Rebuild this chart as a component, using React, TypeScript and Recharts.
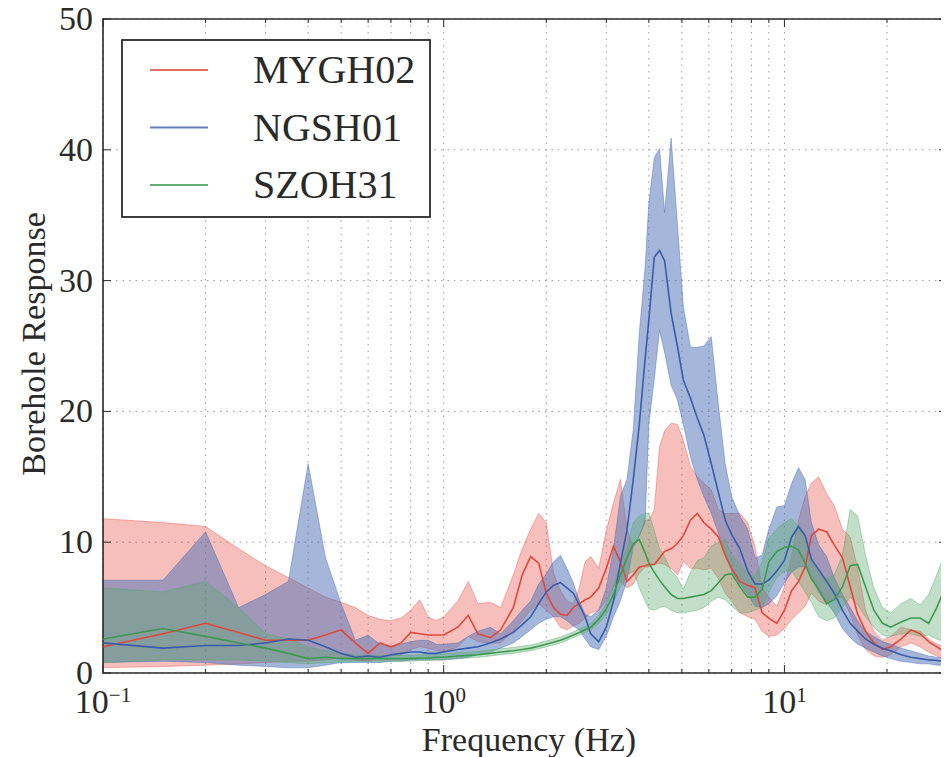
import React from 'react'
import { ComposedChart, Area, Line, XAxis, YAxis, CartesianGrid, ReferenceArea } from 'recharts'

const freqs = [
  0.1, 0.15, 0.2, 0.25, 0.3, 0.35, 0.4, 0.45, 0.5, 0.55,
  0.6, 0.65, 0.7, 0.75, 0.8, 0.85, 0.9, 0.95, 1.0, 1.1,
  1.18, 1.26, 1.37, 1.47, 1.6, 1.7, 1.8, 1.9, 2.0, 2.1,
  2.2, 2.3, 2.4, 2.5, 2.6, 2.7, 2.85, 3.0, 3.15, 3.3,
  3.45, 3.6, 3.75, 3.9, 4.0, 4.15, 4.3, 4.45, 4.65, 4.85,
  5.05, 5.3, 5.55, 5.8, 6.1, 6.4, 6.7, 7.0, 7.4, 7.8,
  8.2, 8.6, 9.0, 9.5, 10, 10.5, 11, 11.5, 12, 12.6,
  13.3, 14, 14.8, 15.6, 16.4, 17.3, 18.3, 19.4, 20.5, 22,
  23.5, 25, 26.5, 28, 30,
]

// MYGH02 (red)
const mygh02 = [
  2.0, 3.0, 3.8, 3.1, 2.5, 2.5, 2.5, 2.9, 3.3, 2.3,
  1.5, 2.3, 2.0, 2.3, 3.1, 3.0, 2.9, 2.9, 2.9, 3.5,
  4.4, 3.0, 2.7, 3.3, 5.0, 7.5, 8.9, 8.4, 6.1, 5.0,
  4.5, 4.4, 5.0, 5.3, 5.6, 5.8, 6.5, 8.0, 9.7, 8.5,
  7.0, 7.5, 8.1, 8.2, 8.3, 8.3, 8.8, 9.3, 9.5, 9.9,
  10.5, 11.7, 12.2, 11.5, 11.0, 10.4, 9.0, 8.0, 7.0, 6.7,
  6.5, 4.6, 4.2, 3.8, 4.8, 6.3, 7.0, 8.1, 10.5, 11.0,
  10.8, 9.8, 8.8, 6.6, 4.5, 3.2, 2.3, 1.8, 2.0, 2.6,
  3.3, 3.0, 2.4, 2.0, 1.5,
]
const mygh02Hi = [
  11.8, 11.5, 11.2, 9.5, 8.2, 7.3, 6.5, 5.8, 5.4, 5.0,
  4.4, 4.1, 4.0, 4.2, 4.8, 5.6, 4.3, 4.0, 4.3, 5.5,
  7.0, 5.3, 5.4, 5.0, 7.5, 9.5, 11.0, 12.2, 11.5, 7.6,
  6.3, 5.5, 5.3, 6.5, 8.5, 8.9, 8.0, 10.9, 13.0, 14.8,
  11.0, 9.7, 10.5, 11.7, 11.7, 12.5, 17.3, 18.5, 19.1, 19.0,
  17.8, 15.8, 15.0, 14.5, 14.0, 12.5, 12.2, 12.2, 12.2, 11.5,
  9.6, 6.5, 5.8, 5.1, 6.6, 9.0, 11.7, 13.5, 14.5, 15.0,
  13.7, 12.8, 11.0, 10.4, 8.0, 4.8, 3.2, 2.5, 2.8, 3.5,
  3.3, 3.2, 2.6, 2.2, 2.0,
]
const mygh02Lo = [
  0.4, 0.5, 0.6, 0.7, 0.8, 0.9, 0.9, 1.0, 1.2, 1.0,
  0.9, 1.2, 1.3, 1.4, 1.8, 2.0, 1.9, 1.7, 1.6, 2.0,
  2.8, 2.4, 2.3, 2.3, 3.2, 4.0, 4.8, 5.3, 4.8, 4.3,
  3.5, 3.3, 3.6, 3.8, 4.2, 4.6, 4.8, 5.5, 6.6, 7.0,
  6.5, 6.8, 7.6, 8.1, 8.1, 8.3, 8.4, 8.3, 8.0, 7.5,
  8.5, 8.0, 8.0, 7.9, 8.0, 7.2, 6.1, 5.5, 4.6, 4.3,
  4.1, 3.2, 2.8, 2.9, 3.4, 4.1, 4.6, 5.1, 6.1, 5.5,
  5.2, 5.8, 5.8, 4.5, 2.9, 1.8, 1.3, 1.2, 1.4, 2.0,
  2.3, 2.0, 1.6, 1.3, 1.0,
]

// NGSH01 (blue)
const ngsh01 = [
  2.3, 1.9, 2.1, 2.1, 2.3, 2.6, 2.5, 2.0, 1.5, 1.2,
  1.3, 1.2, 1.4, 1.5, 1.6, 1.6, 1.5, 1.5, 1.6, 1.8,
  1.9, 2.0, 2.3, 2.6, 3.1, 3.7, 4.3, 5.3, 6.2, 6.7,
  6.9, 6.5, 6.1, 5.2, 4.3, 3.0, 2.4, 3.5, 5.5, 8.4,
  10.9, 14.8, 19.0, 24.0, 27.0, 31.8, 32.3, 31.5, 27.5, 25.0,
  22.4, 21.0, 19.5, 18.2, 16.0, 13.8, 11.7, 10.6, 9.5, 7.8,
  6.8, 6.8, 7.1, 7.8, 8.6, 10.4, 11.2, 10.5, 8.7, 7.9,
  7.0, 6.1, 4.8, 3.8, 3.2, 2.6, 2.2, 1.9, 1.7, 1.4,
  1.2, 1.1, 1.0, 0.95, 0.9,
]
const ngsh01Hi = [
  7.1, 7.1, 10.8, 5.0, 6.0, 7.0, 16.0, 8.8, 5.3, 2.5,
  2.9, 2.2, 2.0, 2.2, 2.4, 2.5, 2.5, 2.2, 2.2, 2.3,
  2.8, 3.2, 3.5, 3.0, 4.0, 4.8, 5.5, 6.8, 7.6, 8.5,
  9.0, 8.0, 6.9, 5.5, 4.5, 4.3, 4.8, 6.5, 9.5, 13.5,
  14.8, 18.6, 26.0, 31.0, 36.0, 39.4, 40.1, 35.2, 40.9, 34.4,
  28.0, 24.9, 24.9, 25.0, 25.7, 20.5, 16.0, 13.5, 12.0, 11.0,
  8.8, 9.0, 11.0, 12.7, 12.8, 14.5, 15.7, 14.8, 11.5, 9.8,
  8.9, 7.3, 6.0, 5.0, 4.0, 3.2, 2.8, 2.4, 2.2, 1.9,
  1.7, 1.5, 1.3, 1.2, 1.1,
]
const ngsh01Lo = [
  0.8, 0.9, 0.8, 0.6, 0.5, 0.4, 0.4, 0.6, 0.8, 0.8,
  0.8, 0.8, 0.9, 0.9, 1.0, 1.0, 1.0, 1.0, 1.0, 1.1,
  1.2, 1.4, 1.6, 1.9, 2.3, 2.8, 3.3, 3.8, 4.1, 4.3,
  4.3, 4.0, 3.6, 3.3, 2.6, 2.0, 1.8, 2.8, 4.3, 5.5,
  7.1, 9.6, 10.5, 11.5, 19.0, 22.5, 26.2, 24.5, 22.0, 20.9,
  19.0, 16.5, 14.8, 13.5, 12.2, 10.7, 9.0, 7.8, 6.8, 6.0,
  5.1, 5.0, 5.3, 5.9, 6.9, 7.7, 8.1, 8.1, 7.3, 6.2,
  5.4, 4.6, 3.4, 2.7, 2.2, 1.9, 1.6, 1.3, 1.1, 0.9,
  0.8, 0.7, 0.7, 0.6, 0.6,
]

// SZOH31 (green)
const szoh31 = [
  2.6, 3.4, 2.8, 2.3, 1.9, 1.5, 1.1, 1.2, 1.1, 1.1,
  1.1, 1.1, 1.1, 1.1, 1.1, 1.15, 1.15, 1.2, 1.2, 1.3,
  1.35, 1.4, 1.5, 1.6, 1.7, 1.8, 1.9, 2.05, 2.2, 2.35,
  2.5, 2.7, 2.9, 3.1, 3.3, 3.5, 4.1, 4.9, 6.0, 7.5,
  8.8, 9.9, 10.2, 9.2, 8.4, 7.7, 7.1, 6.6, 6.0, 5.7,
  5.7, 5.8, 5.9, 6.0, 6.3, 6.9, 7.5, 7.6, 6.6, 5.8,
  5.8, 6.4, 8.5, 9.3, 9.6, 9.7, 9.4, 8.4, 7.2, 6.4,
  5.3, 5.6, 6.6, 8.2, 8.3, 6.6, 4.8, 3.8, 3.5, 3.9,
  4.2, 4.2, 3.8, 5.0, 6.9,
]
const szoh31Hi = [
  6.5, 6.2, 7.0, 5.0, 3.0, 2.6, 2.0, 1.7, 1.5, 1.4,
  1.35, 1.35, 1.35, 1.35, 1.35, 1.4, 1.4, 1.45, 1.45, 1.55,
  1.6, 1.65, 1.75, 1.85, 1.95, 2.05, 2.15, 2.3, 2.45, 2.6,
  2.75, 2.95, 3.15, 3.35, 3.55, 3.8, 4.4, 5.3, 6.6, 8.4,
  9.5, 11.5, 12.0, 12.2, 12.2, 10.9, 9.5, 8.9, 7.8, 7.3,
  6.4, 7.7, 8.6, 8.8, 9.7, 10.0, 10.2, 9.0, 8.4, 7.5,
  7.4, 8.5, 10.3, 11.0, 11.5, 11.8, 11.2, 10.0, 8.5, 7.8,
  7.2, 7.5, 9.0, 12.5, 12.0, 9.0, 6.5, 5.0, 4.6, 5.3,
  5.7, 5.2, 6.0, 7.5, 9.6,
]
const szoh31Lo = [
  0.8, 1.0, 1.0, 1.0, 0.9, 0.8, 0.7, 0.8, 0.85, 0.9,
  0.9, 0.9, 0.9, 0.9, 0.9, 0.95, 0.95, 1.0, 1.0, 1.1,
  1.15, 1.2, 1.3, 1.4, 1.5, 1.6, 1.7, 1.85, 2.0, 2.15,
  2.3, 2.5, 2.7, 2.9, 3.1, 3.3, 3.8, 4.5, 5.4, 6.6,
  7.5, 7.8, 6.5, 5.5, 4.9, 4.8, 5.0, 5.1, 4.8, 4.6,
  4.6, 4.7, 4.8, 5.0, 5.5, 5.8, 5.6, 5.1, 4.6, 4.6,
  4.8, 5.0, 6.2, 7.3, 7.8, 7.8, 7.0, 6.2, 5.4, 4.3,
  4.0, 4.2, 5.0, 5.8, 5.2, 4.3, 3.5, 2.9, 2.8, 3.0,
  3.0, 2.8, 2.9, 2.6, 2.3,
]

const xTicks = [0.1, 0.2, 0.3, 0.4, 0.5, 0.6, 0.7, 0.8, 0.9, 1, 2, 3, 4, 5, 6, 7, 8, 9, 10, 20]
const majorTicks: Record<number, string> = { 0.1: '−1', 1: '0', 10: '1' }
const yTicks = [0, 10, 20, 30, 40, 50]

const series = [
  { name: 'MYGH02', key: 'r', line: '#e0483c', fill: '#e8584e', fillOpacity: 0.38 },
  { name: 'NGSH01', key: 'b', line: '#3a5da8', fill: '#4a6fb5', fillOpacity: 0.5 },
  { name: 'SZOH31', key: 'g', line: '#3e9a50', fill: '#55a868', fillOpacity: 0.36 },
]

const data = freqs.map((f, i) => ({
  f,
  r: mygh02[i], rLo: mygh02Lo[i], rHi: mygh02Hi[i],
  b: ngsh01[i], bLo: ngsh01Lo[i], bHi: ngsh01Hi[i],
  g: szoh31[i], gLo: szoh31Lo[i], gHi: szoh31Hi[i],
}))

// chart is shifted over the 8px body margin so its pixels match the page
const W = 949
const H = 757
const PLOT = { left: 103, right: 947, top: 19, bottom: 673 }
const FONT = "'Liberation Serif', 'Times New Roman', serif"
const INK = '#2a2a2a'

function XTick(props: any) {
  const { x, payload } = props
  const exp = majorTicks[payload.value]
  const len = exp !== undefined ? 8 : 4
  return (
    <g>
      <line x1={x} x2={x} y1={PLOT.bottom} y2={PLOT.bottom - len} stroke={INK} />
      <line x1={x} x2={x} y1={PLOT.top} y2={PLOT.top + len} stroke={INK} />
      {exp !== undefined && (
        <text x={x} y={PLOT.bottom + 40} textAnchor="middle" fontFamily={FONT} fontSize={34} fill={INK}>
          10<tspan dy={-11} fontSize={21}>{exp}</tspan>
        </text>
      )}
    </g>
  )
}

function YTick(props: any) {
  const { y, payload } = props
  return (
    <g>
      <line x1={PLOT.left} x2={PLOT.left + 8} y1={y} y2={y} stroke={INK} />
      <line x1={PLOT.right - 8} x2={PLOT.right} y1={y} y2={y} stroke={INK} />
      <text x={PLOT.left - 10} y={y + 11} textAnchor="end" fontFamily={FONT} fontSize={34} fill={INK}>
        {payload.value}
      </text>
    </g>
  )
}

export default function App() {
  return (
    <div style={{ position: 'relative', width: W, height: H, marginLeft: -8, marginTop: -8 }}>
      <ComposedChart width={W} height={H} data={data} margin={{ top: 19, right: 2, bottom: 34, left: 43 }}>
        <CartesianGrid stroke="#9a9a9a" strokeDasharray="1.5 5" strokeWidth={1} />
        <XAxis
          dataKey="f"
          type="number"
          scale="log"
          domain={[0.1, 30]}
          allowDataOverflow
          ticks={xTicks}
          interval={0}
          tick={<XTick />}
          tickLine={false}
          axisLine={false}
          height={50}
        />
        <YAxis
          type="number"
          domain={[0, 50]}
          ticks={yTicks}
          interval={0}
          tick={<YTick />}
          tickLine={false}
          axisLine={false}
          width={60}
        />
        {series.map((s) => (
          <Area
            key={s.key + 'band'}
            type="linear"
            dataKey={(d: any) => [d[s.key + 'Lo'], d[s.key + 'Hi']]}
            fill={s.fill}
            fillOpacity={s.fillOpacity}
            stroke={s.fill}
            strokeOpacity={0.45}
            strokeWidth={1}
            isAnimationActive={false}
          />
        ))}
        {series.map((s) => (
          <Line
            key={s.key}
            type="linear"
            dataKey={s.key}
            stroke={s.line}
            strokeWidth={1.6}
            dot={false}
            isAnimationActive={false}
          />
        ))}
        <ReferenceArea x1={0.1} x2={30} y1={0} y2={50} fill="none" stroke={INK} strokeWidth={1.6} />
      </ComposedChart>

      <svg width={W} height={H} style={{ position: 'absolute', left: 0, top: 0, pointerEvents: 'none' }}>
        <text
          x={45}
          y={344}
          transform="rotate(-90 45 344)"
          textAnchor="middle"
          fontFamily={FONT}
          fontSize={34}
          fill={INK}
        >
          Borehole Response
        </text>
        <text x={529} y={751} textAnchor="middle" fontFamily={FONT} fontSize={34} fill={INK}>
          Frequency (Hz)
        </text>
        <g transform="translate(122 40)">
          <rect x={0} y={0} width={308} height={177} fill="#fff" stroke={INK} strokeWidth={1.8} />
          {series.map((s, i) => (
            <g key={s.key}>
              <line x1={28} x2={86} y1={30 + i * 57.5} y2={30 + i * 57.5} stroke={s.line} strokeOpacity={0.8} strokeWidth={2} />
              <text x={131} y={43 + i * 57.5} fontFamily={FONT} fontSize={40} fill={INK}>
                {s.name}
              </text>
            </g>
          ))}
        </g>
      </svg>
    </div>
  )
}
